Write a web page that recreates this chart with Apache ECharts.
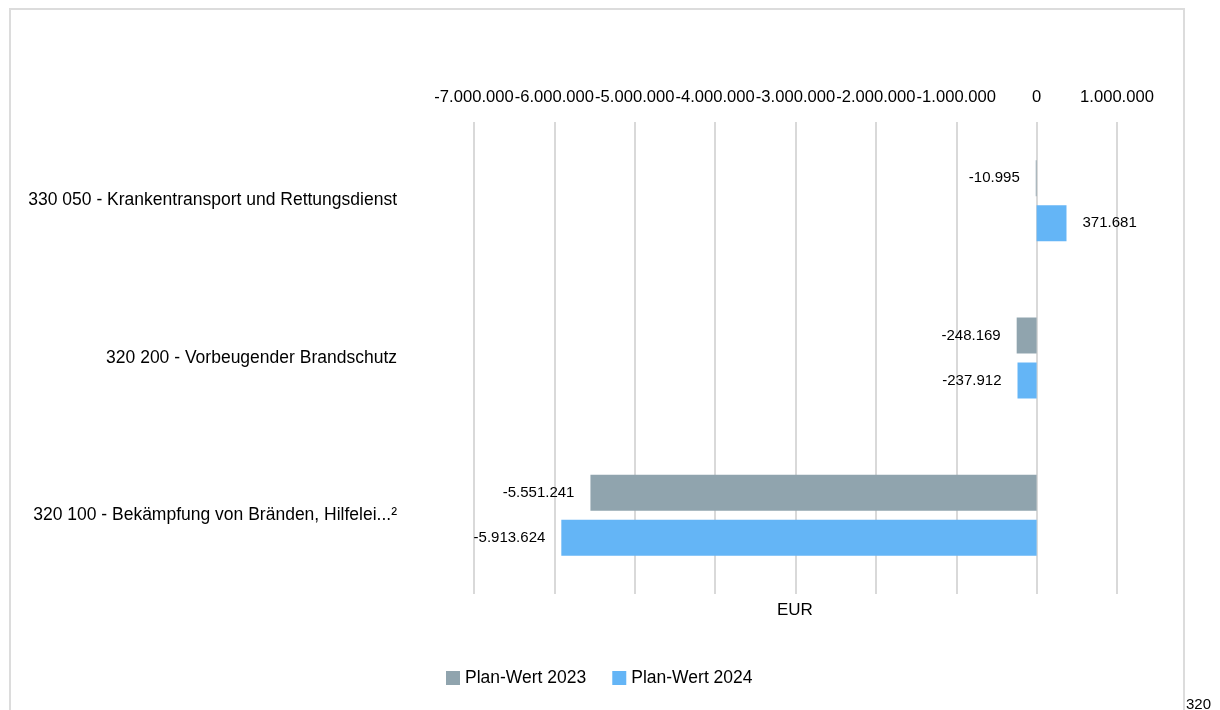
<!DOCTYPE html>
<html>
<head>
<meta charset="utf-8">
<script src="https://cdn.jsdelivr.net/npm/echarts@6/dist/echarts.min.js"></script>
<style>
  html, body { margin: 0; padding: 0; background: #fff; }
  #chart { width: 1220px; height: 710px; }
</style>
</head>
<body>
<div id="chart"></div>
<script>
// Kategorien (von oben nach unten)
var categories = [
  '330 050 - Krankentransport und Rettungsdienst',
  '320 200 - Vorbeugender Brandschutz',
  '320 100 - Bekämpfung von Bränden, Hilfelei...²'
];
var plan2023 = [-10995, -248169, -5551241];
var plan2024 = [371681, -237912, -5913624];
var seriesNames = ['Plan-Wert 2023', 'Plan-Wert 2024'];
var axisMin = -7000000, axisMax = 1000000, axisStep = 1000000;

var FONT = 'Liberation Sans';

// Zahlen im deutschen Format: 1.000.000
function fmt(v) {
  var s = String(Math.abs(Math.round(v))).replace(/\B(?=(\d{3})+(?!\d))/g, '.');
  return (v < 0 ? '-' : '') + s;
}

function toItems(arr) {
  return arr.map(function (v) {
    return {
      value: v,
      label: { position: v < 0 ? 'left' : 'right' }
    };
  });
}

function barSeries(name, values, color) {
  return {
    name: name,
    type: 'bar',
    data: toItems(values),
    barWidth: 36,
    barGap: '25%',
    itemStyle: { color: color },
    label: {
      show: true,
      distance: 16,
      color: '#000',
      fontFamily: FONT,
      fontSize: 15,
      formatter: function (p) { return fmt(p.value); }
    }
  };
}

var myChart = echarts.init(document.getElementById('chart'));
var option = {
  animation: false,
  grid: { left: 474, right: 103, top: 122, bottom: 116 },
  legend: {
    data: seriesNames,
    left: 446,
    top: 669,
    padding: 0,
    icon: 'rect',
    itemWidth: 14,
    itemHeight: 14,
    itemGap: 26,
    textStyle: { fontFamily: FONT, fontSize: 17.5, color: '#000' }
  },
  xAxis: {
    type: 'value',
    position: 'top',
    min: axisMin,
    max: axisMax,
    interval: axisStep,
    axisLine: { show: false },
    axisTick: { show: false },
    splitLine: { lineStyle: { color: '#d9d9d9', width: 2 } },
    axisLabel: {
      margin: 16,
      color: '#000',
      fontFamily: FONT,
      fontSize: 16.6,
      showMinLabel: true,
      showMaxLabel: true,
      formatter: fmt
    }
  },
  yAxis: {
    type: 'category',
    inverse: true,
    data: categories,
    axisLine: { show: false },
    axisTick: { show: false },
    axisLabel: {
      margin: 77,
      color: '#000',
      fontFamily: FONT,
      fontSize: 17.5
    }
  },
  graphic: [
    {
      type: 'rect',
      silent: true,
      shape: { x: 10, y: 9, width: 1174, height: 730 },
      style: { fill: 'none', stroke: '#dcdcdc', lineWidth: 2 }
    },
    {
      type: 'text',
      left: 777,
      top: 602,
      style: { text: 'EUR', fill: '#000', font: '17px "Liberation Sans"' }
    },
    {
      type: 'text',
      left: 1186,
      top: 697,
      style: { text: '320', fill: '#000', font: '15px "Liberation Sans"' }
    }
  ],
  series: [
    barSeries(seriesNames[0], plan2023, '#90A4AE'),
    barSeries(seriesNames[1], plan2024, '#64B5F6')
  ]
};
myChart.setOption(option, true);
</script>
</body>
</html>
